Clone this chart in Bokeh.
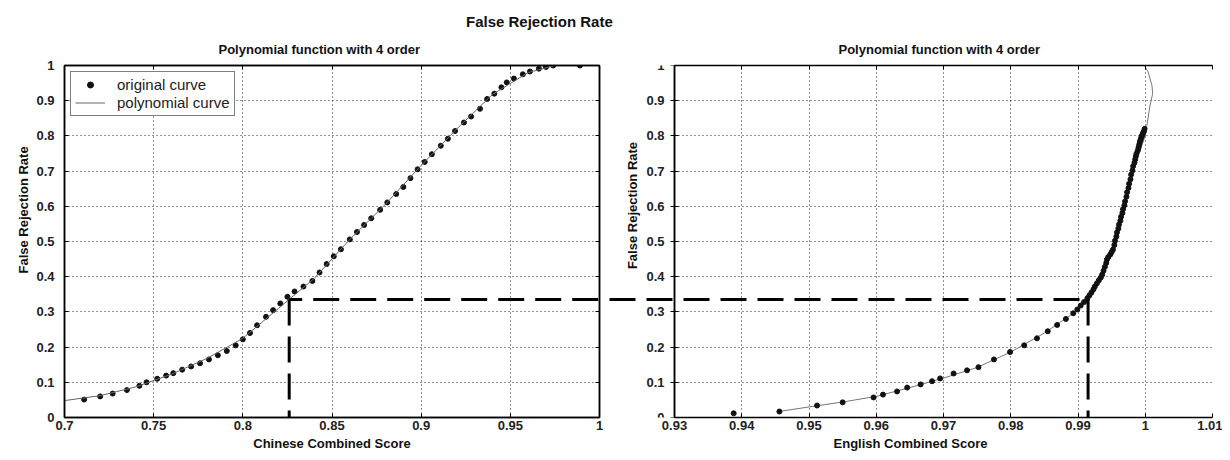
import math
from bokeh.plotting import figure
from bokeh.models import Div, FixedTicker, Arrow, Legend, LinearAxis, Title, Label
from bokeh.layouts import column, row
from bokeh.embed import file_html
from bokeh.resources import INLINE

# ---------------- data ----------------
cn_x = [0.711, 0.720, 0.727, 0.735, 0.742, 0.746, 0.752, 0.757, 0.761, 0.766, 0.771,
        0.776, 0.781, 0.786, 0.791, 0.796, 0.800, 0.804, 0.808, 0.813, 0.817, 0.821,
        0.825, 0.829, 0.834, 0.839, 0.843, 0.847, 0.851, 0.855, 0.860, 0.864, 0.868,
        0.872, 0.877, 0.881, 0.886, 0.890, 0.894, 0.898, 0.902, 0.906, 0.911, 0.915,
        0.919, 0.924, 0.928, 0.933, 0.937, 0.941, 0.945, 0.948, 0.952, 0.957, 0.961,
        0.966, 0.970, 0.974, 0.989]
cn_y = [0.051, 0.060, 0.068, 0.078, 0.090, 0.100, 0.110, 0.119, 0.126, 0.136, 0.145,
        0.154, 0.165, 0.177, 0.189, 0.205, 0.222, 0.240, 0.262, 0.286, 0.305, 0.324,
        0.343, 0.358, 0.372, 0.388, 0.412, 0.436, 0.458, 0.478, 0.506, 0.527, 0.547,
        0.566, 0.590, 0.611, 0.635, 0.655, 0.680, 0.705, 0.726, 0.748, 0.772, 0.792,
        0.814, 0.838, 0.855, 0.877, 0.905, 0.920, 0.938, 0.952, 0.963, 0.975, 0.983,
        0.991, 0.996, 1.000, 1.000]
cn_poly_x = [0.700, 0.720, 0.740, 0.760, 0.780, 0.800, 0.820, 0.840, 0.860, 0.880,
             0.900, 0.920, 0.940, 0.960, 0.975]
cn_poly_y = [0.048, 0.062, 0.087, 0.123, 0.168, 0.225, 0.310, 0.395, 0.506, 0.606,
             0.716, 0.820, 0.918, 0.980, 1.000]

en_x = [0.9388, 0.9456, 0.9512, 0.9550, 0.9596, 0.9610, 0.9631, 0.9646, 0.9666, 0.9683,
        0.9695, 0.9715, 0.9735, 0.9752, 0.9775, 0.9799, 0.9820, 0.9839, 0.9855, 0.9869,
        0.9882, 0.9893, 0.9899, 0.9904, 0.9909, 0.9914, 0.9917, 0.9920, 0.9923, 0.9925,
        0.9928, 0.9931, 0.9934, 0.9936, 0.9938, 0.9940, 0.9942, 0.9943, 0.9945, 0.9948,
        0.9950, 0.9952, 0.9954, 0.9955, 0.9957, 0.9958, 0.9960, 0.9961, 0.9963, 0.9964,
        0.9966, 0.9967, 0.9969, 0.9970, 0.9972, 0.9973, 0.9975, 0.9976, 0.9978, 0.9979,
        0.9981, 0.9982, 0.9984, 0.9985, 0.9986, 0.9987, 0.9989, 0.9990, 0.9991, 0.9992,
        0.9993, 0.9994, 0.9995, 0.9996, 0.9997, 0.9998, 0.9999]
en_y = [0.012, 0.017, 0.034, 0.043, 0.057, 0.065, 0.074, 0.085, 0.094, 0.103,
        0.111, 0.125, 0.134, 0.143, 0.165, 0.186, 0.205, 0.225, 0.245, 0.263,
        0.280, 0.296, 0.307, 0.318, 0.328, 0.339, 0.347, 0.355, 0.364, 0.372,
        0.381, 0.390, 0.398, 0.406, 0.417, 0.428, 0.439, 0.449, 0.456, 0.463,
        0.470, 0.477, 0.490, 0.502, 0.514, 0.526, 0.537, 0.548, 0.559, 0.570,
        0.581, 0.592, 0.603, 0.614, 0.627, 0.640, 0.652, 0.664, 0.677, 0.690,
        0.702, 0.714, 0.724, 0.733, 0.742, 0.750, 0.759, 0.767, 0.775, 0.783,
        0.789, 0.795, 0.800, 0.805, 0.809, 0.813, 0.820]
en_poly_x = [0.9455, 0.9500, 0.9550, 0.9600, 0.9650, 0.9700, 0.9750, 0.9800, 0.9850,
             0.9900, 0.9925, 0.9950, 0.9970, 0.9985, 1.0000, 1.0007, 1.0011, 1.0010,
             1.0004, 0.99985]
en_poly_y = [0.017, 0.030, 0.044, 0.060, 0.085, 0.112, 0.142, 0.186, 0.240,
             0.305, 0.370, 0.460, 0.610, 0.720, 0.800, 0.886, 0.920, 0.943,
             0.983, 1.000]

frr_level = 0.335
cn_threshold = 0.826
en_threshold = 0.9915

cn_range = (0.7, 1.0)
en_range = (0.93, 1.01)
frr_range = (0.0, 1.0)
cn_ticks = [0.7, 0.75, 0.8, 0.85, 0.9, 0.95, 1.0]
cn_tick_labels = ["0.7", "0.75", "0.8", "0.85", "0.9", "0.95", "1"]
en_ticks = [0.93, 0.94, 0.95, 0.96, 0.97, 0.98, 0.99, 1.0, 1.01]
en_tick_labels = ["0.93", "0.94", "0.95", "0.96", "0.97", "0.98", "0.99", "1", "1.01"]
y_ticks = [0.0, 0.1, 0.2, 0.3, 0.4, 0.5, 0.6, 0.7, 0.8, 0.9, 1.0]
y_tick_labels = ["0", "0.1", "0.2", "0.3", "0.4", "0.5", "0.6", "0.7", "0.8", "0.9", "1"]
y_title = "False Rejection Rate"

# ---------------- geometry / style ----------------
FONT = "Liberation Sans"
DASH_ON, DASH_OFF = 26, 11
DASH = f"{DASH_ON} {DASH_OFF}"
PERIOD = DASH_ON + DASH_OFF
H = 428
TOP, BOTTOM = 35, 41
W1, L1, R1 = 608, 64, 9
W2, L2, R2 = 614, 66, 10          # L2: distance from p2's canvas edge to its visible box
FW1 = W1 - L1 - R1
FW2 = W2 - L2 - R2                # width of the visible box of p2
FH = H - TOP - BOTTOM
YLAB_LIFT = 36                    # y titles sit above the box centre, as in the reference
TITLE_STANDOFF = 18

# p2's frame reaches its canvas edge, so the dashed line and the y axis can live there
en_view_start = en_range[0] - L2 / FW2 * (en_range[1] - en_range[0])


def style_axis(ax):
    ax.axis_label_text_font = FONT
    ax.axis_label_text_font_size = "13px"
    ax.axis_label_text_font_style = "bold"
    ax.axis_label_text_color = "#111"
    ax.major_label_text_font = FONT
    ax.major_label_text_font_size = "13px"
    ax.major_label_text_font_style = "bold"
    ax.major_label_text_color = "#222"
    ax.major_tick_in = 4
    ax.major_tick_out = 0
    ax.minor_tick_line_color = None
    ax.axis_line_color = "black"
    ax.axis_line_width = 1.5
    ax.major_tick_line_color = "black"


def box_axis(p, side, ticks, bounds):
    ax = LinearAxis(ticker=FixedTicker(ticks=ticks), bounds=bounds)
    style_axis(ax)
    ax.major_label_text_font_size = "0px"
    ax.major_label_standoff = 0
    ax.major_label_overrides = {t: "" for t in ticks}
    p.add_layout(ax, side)


def style(p, xticks, xlabels, xlabel, title_offset, xbounds):
    p.title.text_font = FONT
    p.title.text_font_size = "13px"
    p.title.text_font_style = "bold"
    p.title.text_color = "#111"
    p.title.align = "left"
    p.title.offset = title_offset
    p.title.standoff = TITLE_STANDOFF
    p.xaxis.ticker = FixedTicker(ticks=xticks)
    p.xaxis.major_label_overrides = {t: l for t, l in zip(xticks, xlabels)}
    p.xaxis.bounds = xbounds
    p.yaxis.ticker = FixedTicker(ticks=y_ticks)
    p.yaxis.major_label_overrides = {t: l for t, l in zip(y_ticks, y_tick_labels)}
    p.yaxis.bounds = frr_range
    p.xaxis.axis_label = xlabel
    style_axis(p.xaxis[0])
    style_axis(p.yaxis[0])
    p.xaxis.major_label_standoff = 3
    p.xaxis.axis_label_standoff = 3
    p.yaxis.major_label_standoff = 10
    for g in (p.xgrid[0], p.ygrid[0]):
        g.grid_line_color = "#111"
        g.grid_line_dash = "1 3"
        g.grid_line_width = 1
        g.grid_line_alpha = 0.9
    box_axis(p, "above", xticks, xbounds)
    box_axis(p, "right", y_ticks, frr_range)
    p.background_fill_color = "white"
    p.border_fill_color = "white"


# ---------------- left figure ----------------
p1 = figure(width=W1, height=H, x_range=cn_range, y_range=frr_range,
            title="Polynomial function with 4 order",
            output_backend="svg", toolbar_location=None,
            min_border_left=L1, min_border_right=R1, min_border_top=TOP, min_border_bottom=BOTTOM)
style(p1, cn_ticks, cn_tick_labels, "Chinese Combined Score", 154, cn_range)
p1.outline_line_color = "black"
p1.outline_line_width = 1.5
p1.add_layout(Title(text=y_title, align="left", offset=(FH - 135) // 2 + YLAB_LIFT,
                    text_font=FONT, text_font_size="13px", text_font_style="bold",
                    text_color="#111", standoff=5), "left")

r_pts = p1.scatter(cn_x, cn_y, size=5, color="#111")
r_line = p1.line(cn_poly_x, cn_poly_y, line_color="#666", line_width=1)

legend = Legend(items=[("original curve", [r_pts]), ("polynomial curve", [r_line])],
                location="top_left", margin=6, padding=4, spacing=1,
                label_text_font=FONT, label_text_font_size="15px", label_text_color="#222",
                label_standoff=12, glyph_width=30, glyph_height=15, label_height=15,
                border_line_color="black", border_line_width=1.5,
                background_fill_color="white", background_fill_alpha=1)
p1.add_layout(legend)

# dash phase: put a gap of the pattern on the border between the two panels
start_px = L1 + (cn_threshold - cn_range[0]) / (cn_range[1] - cn_range[0]) * FW1
edge_phase = DASH_ON + 1
d1 = int(round(edge_phase - (L1 + FW1 - start_px))) % PERIOD
d2 = int(round(edge_phase + (W1 - L1 - FW1))) % PERIOD

p1.add_layout(Arrow(end=None, x_start=cn_threshold, y_start=frr_level, x_end=cn_threshold, y_end=0,
                    line_color="black", line_width=3, line_dash=DASH))
p1.add_layout(Arrow(end=None, x_start=cn_threshold, y_start=frr_level, x_end=cn_range[1], y_end=frr_level,
                    line_color="black", line_width=3, line_dash=DASH, line_dash_offset=d1))

# ---------------- right figure ----------------
p2 = figure(width=W2, height=H, x_range=(en_view_start, en_range[1]), y_range=frr_range,
            title="Polynomial function with 4 order",
            output_backend="svg", toolbar_location=None,
            min_border_left=0, min_border_right=R2, min_border_top=TOP, min_border_bottom=BOTTOM)
style(p2, en_ticks, en_tick_labels, "English Combined Score", 164 + L2, en_range)
p2.outline_line_color = None
p2.yaxis.fixed_location = en_range[0]
p2.ygrid[0].cross_bounds = en_range
p2.add_layout(Label(x=en_range[0], y=0.5 * (frr_range[0] + frr_range[1]) + YLAB_LIFT / FH,
                    x_offset=-42, text=y_title, angle=math.pi / 2,
                    text_align="center", text_baseline="middle",
                    text_font=FONT, text_font_size="13px", text_font_style="bold", text_color="#111"))

p2.line(en_poly_x, en_poly_y, line_color="#777", line_width=1)
p2.scatter(en_x, en_y, size=5, color="#111")

p2.add_layout(Arrow(end=None, x_start=en_threshold, y_start=frr_level, x_end=en_threshold, y_end=0,
                    line_color="black", line_width=3, line_dash=DASH))
p2.add_layout(Arrow(end=None, x_start=en_view_start, y_start=frr_level, x_end=en_threshold, y_end=frr_level,
                    line_color="black", line_width=3, line_dash=DASH, line_dash_offset=d2))

# ---------------- super title ----------------
sup = Div(text="False Rejection Rate", width=1222, height=30, margin=(0, 0, 0, 0),
          styles={"font-family": FONT, "font-size": "15px", "font-weight": "bold",
                  "padding-left": "466px", "padding-top": "11px", "color": "#111",
                  "box-sizing": "border-box"})

layout = column(sup, row(p1, p2, spacing=0), spacing=0)

open("out.html", "w").write(file_html(layout, INLINE))
